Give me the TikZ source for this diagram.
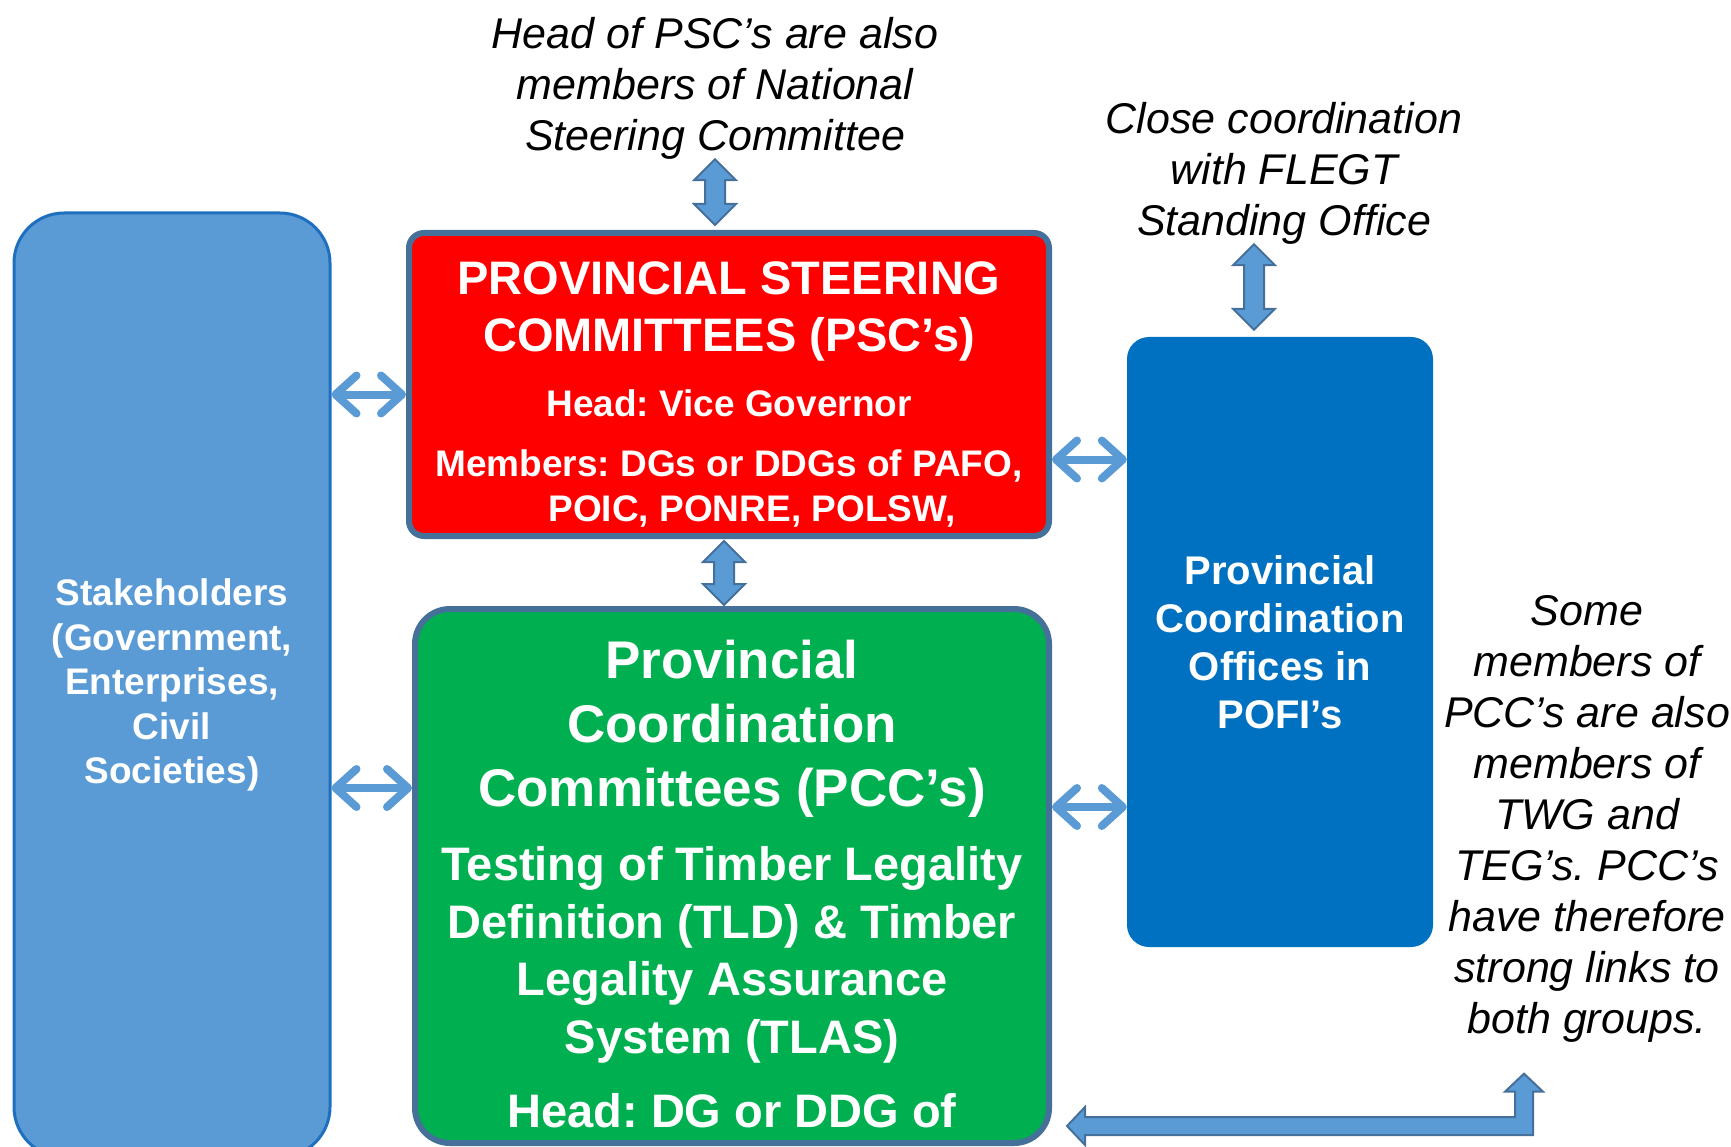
\documentclass[tikz,border=0pt]{standalone}
\usepackage{fontspec}
\setmainfont{Liberation Sans}
\frenchspacing
\usetikzlibrary{calc}
\usetikzlibrary{arrows.meta}

\definecolor{stakeblue}{HTML}{5B9BD5}
\definecolor{stakeline}{HTML}{1F6FBF}
\definecolor{pscred}{HTML}{FF0000}
\definecolor{pccgreen}{HTML}{00B050}
\definecolor{pofiblue}{HTML}{0070C0}
\definecolor{frameline}{HTML}{45709A}
\definecolor{arrowfill}{HTML}{5B9BD5}

% vertical block arrow with heads on both ends, #1 top tip, #2 bottom tip
\newcommand{\vblockarrow}[2]{%
  \path[blockarrow] (#1) -- ++(-21,21) -- ++(11,0) -- ($(#2)+(-10,-21)$) -- ++(-11,0)
    -- (#2) -- ++(21,-21) -- ++(-11,0) -- ($(#1)+(10,21)$) -- ++(11,0) -- cycle;}

\begin{document}
\begin{tikzpicture}[x=1pt,y=-1pt,
  panel/.style={inner sep=0pt, line width=6pt, draw=frameline},
  boxtext/.style={text=white, align=center, inner sep=0pt},
  note/.style={font=\itshape\fontsize{43}{51}\selectfont, align=center, inner sep=0pt},
  blockarrow/.style={fill=arrowfill, draw=frameline, line width=2pt, line join=miter},
  linkarrow/.style={draw=arrowfill, line width=8pt,
    {Straight Barb[length=21pt,width=38pt,round]}-{Straight Barb[length=21pt,width=38pt,round]}}
  ]
\clip (0,0) rectangle (1731,1147);

% boxes
\node[draw=stakeline, fill=stakeblue, line width=3pt, rounded corners=50pt,
      minimum width=316pt, minimum height=944pt, boxtext,
      font=\bfseries\fontsize{37}{44.5}\selectfont] (stake) at (172,685)
  {Stakeholders\\(Government,\\Enterprises,\\Civil\\Societies)};

\node[panel, fill=pscred, rounded corners=15pt, minimum width=640pt, minimum height=303pt] (psc) at (729,384.5) {};
\node[boxtext, font=\bfseries\fontsize{47}{57}\selectfont] (psctitle) at (729,311)
  {PROVINCIAL STEERING\\COMMITTEES (PSC’s)};
\node[boxtext, font=\bfseries\fontsize{37}{45}\selectfont] (pschead) at (729,403) {Head: Vice Governor};
\node[boxtext, font=\bfseries\fontsize{37}{45}\selectfont] (pscmembers) at (729,488)
  {Members: DGs or DDGs of PAFO,\\\hspace*{46pt}POIC, PONRE, POLSW,};

\node[panel, fill=pccgreen, rounded corners=35pt, minimum width=634pt, minimum height=534pt] (pcc) at (732,876) {};
\node[boxtext, font=\bfseries\fontsize{53}{64}\selectfont] (pcctitle) at (732,729)
  {Provincial\\Coordination\\Committees (PCC’s)};
\node[boxtext, font=\bfseries\fontsize{47}{57.5}\selectfont] (pcctest) at (732,955)
  {Testing of Timber Legality\\Definition (TLD) \& Timber\\Legality Assurance\\System (TLAS)};
\node[boxtext, font=\bfseries\fontsize{47}{57}\selectfont] (pcchead) at (732,1111) {Head: DG or DDG of};

\node[fill=pofiblue, rounded corners=22pt, minimum width=306pt, minimum height=610pt, boxtext,
      font=\bfseries\fontsize{40}{48}\selectfont] (pofi) at (1280,642)
  {Provincial\\Coordination\\Offices in\\POFI’s};

% notes
\node[note] (headnote) at (715,88) {Head of PSC’s are also\\members of National\\Steering Committee};
\node[note] (flegtnote) at (1284,173) {Close coordination\\with FLEGT\\Standing Office};
\node[note] (pccnote) at (1587,819) {Some\\members of\\PCC’s are also\\members of\\TWG and\\TEG’s. PCC’s\\have therefore\\strong links to\\both groups.};

% block arrows
\coordinate (t1) at ($(headnote.south)+(0,0)$);
\coordinate (b1) at ($(t1 |- psc.north)+(0,-5)$);
\vblockarrow{t1}{b1}
\coordinate (t2) at ($(psc.south)+(-5,2)$);
\coordinate (b2) at ($(t2 |- pcc.north)+(0,-1)$);
\vblockarrow{t2}{b2}
\coordinate (t3) at ($(flegtnote.south)+(-30,0)$);
\coordinate (b3) at ($(t3 |- pofi.north)+(0,-7)$);
\vblockarrow{t3}{b3}

\coordinate (l4) at ($(pcc.south east)+(15,-20)$);
\coordinate (u4) at ($(pccnote.south)+(-63,31)$);
\path[blockarrow] (l4) -- ++(18,-19) -- ++(0,10) -- ($(u4 |- l4)+(-9,-9)$) -- ($(u4)+(-9,18)$)
  -- ++(-10,0) -- (u4) -- ++(19,18) -- ++(-10,0) -- ($(u4 |- l4)+(9,9)$) -- ($(l4)+(18,9)$)
  -- ++(0,10) -- cycle;

% link arrows
\coordinate (s1) at ([yshift=-10]psc.west);
\draw[linkarrow] (s1 -| stake.east) -- (s1);
\coordinate (s2) at ([yshift=88]pcc.west);
\draw[linkarrow] (s2 -| stake.east) -- (s2);
\coordinate (s3) at ([yshift=-75]psc.east);
\draw[linkarrow] (s3) -- (s3 -| pofi.west);
\coordinate (s4) at ([yshift=69]pcc.east);
\draw[linkarrow] (s4) -- (s4 -| pofi.west);
\end{tikzpicture}
\end{document}
